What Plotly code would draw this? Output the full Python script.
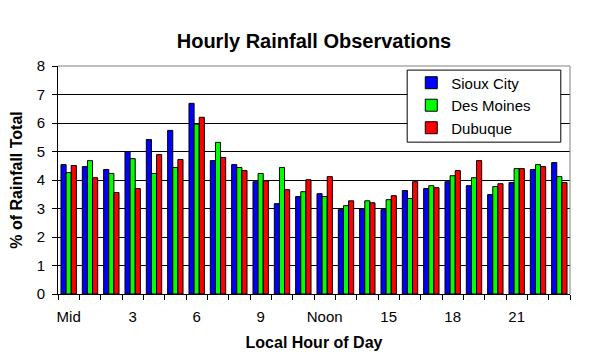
import plotly.graph_objects as go

hours = list(range(24))
tick_positions = [0, 3, 6, 9, 12, 15, 18, 21]
tick_labels = ["Mid", "3", "6", "9", "Noon", "15", "18", "21"]

sioux_city = [4.54, 4.47, 4.37, 5.00, 5.42, 5.74, 6.69, 4.68, 4.54, 3.94, 3.17, 3.42,
              3.52, 2.96, 2.98, 2.96, 3.63, 3.70, 3.94, 3.80, 3.49, 3.91, 4.37, 4.61]
des_moines = [4.26, 4.68, 4.23, 4.75, 4.23, 4.44, 5.96, 5.32, 4.44, 4.23, 4.44, 3.59,
              3.42, 3.10, 3.27, 3.31, 3.35, 3.80, 4.15, 4.08, 3.77, 4.40, 4.54, 4.12]
dubuque = [4.51, 4.08, 3.56, 3.70, 4.89, 4.72, 6.20, 4.79, 4.33, 3.97, 3.66, 4.01,
           4.12, 3.27, 3.20, 3.45, 3.94, 3.73, 4.33, 4.68, 3.87, 4.40, 4.47, 3.91]

series = [("Sioux City", sioux_city, "#0000FF"),
          ("Des Moines", des_moines, "#00FF00"),
          ("Dubuque", dubuque, "#FF0000")]

FONT = "Liberation Sans, Arial, sans-serif"

fig = go.Figure()
for name, vals, col in series:
    fig.add_trace(go.Bar(
        x=hours, y=vals, name=name, legendgroup=name,
        marker=dict(color=col, line=dict(color="black", width=1)),
    ))

fig.update_layout(
    width=589, height=364,
    margin=dict(l=58, r=19, t=66, b=70, autoexpand=False),
    paper_bgcolor="white", plot_bgcolor="white",
    barmode="group", bargap=0.28, bargroupgap=0,
    font=dict(family=FONT, size=15, color="black"),
    title=dict(text="Hourly Rainfall Observations", x=0.5, xref="paper",
               y=1 - 41 / 364, yref="container", yanchor="middle", xanchor="center",
               font=dict(family=FONT, size=20, weight=700, color="black")),
    legend=dict(x=0.69, y=0.998, xanchor="left", yanchor="top",
                bgcolor="rgba(0,0,0,0)", borderwidth=0, tracegroupgap=0,
                font=dict(family=FONT, size=15, color="black")),
    showlegend=True,
)

fig.update_xaxes(
    range=[-0.5, 23.5], tickmode="array", tickvals=tick_positions, ticktext=tick_labels,
    ticks="", showgrid=False, showline=True, linecolor="black", linewidth=1,
    automargin=False,
    minor=dict(tickmode="array", tickvals=[h - 0.5 for h in range(25)],
               ticks="outside", ticklen=5, tickcolor="black", tickwidth=1, showgrid=False),
    tickfont=dict(family=FONT, size=15, color="black"),
    ticklabelstandoff=9,
    title=dict(text="Local Hour of Day", standoff=12,
               font=dict(family=FONT, size=16, weight=700, color="black")),
    zeroline=False,
)
fig.update_yaxes(
    range=[0, 8], dtick=1, tick0=0, ticks="outside", ticklen=5, tickcolor="black",
    showgrid=True, gridcolor="black", gridwidth=1,
    showline=True, linecolor="black", linewidth=1, zeroline=False,
    automargin=False,
    tickfont=dict(family=FONT, size=15, color="black"),
    ticklabelstandoff=4,
    title=dict(text="% of Rainfall Total", standoff=10,
               font=dict(family=FONT, size=16, weight=700, color="black")),
)

# grey plot-area border (top and right), and legend frame
fig.add_shape(type="line", xref="paper", yref="paper", x0=0, x1=1, y0=1, y1=1,
              line=dict(color="#808080", width=1), layer="above")
fig.add_shape(type="line", xref="paper", yref="paper", x0=1, x1=1, y0=0, y1=1,
              line=dict(color="#808080", width=1), layer="above")
fig.add_shape(type="rect", xref="paper", yref="paper", x0=0.682, x1=0.982, y0=0.666, y1=0.982,
              line=dict(color="black", width=1), fillcolor="white", layer="above")

fig.write_html("out.html", config={"displayModeBar": False},
               post_script="document.body.style.margin='0';")
